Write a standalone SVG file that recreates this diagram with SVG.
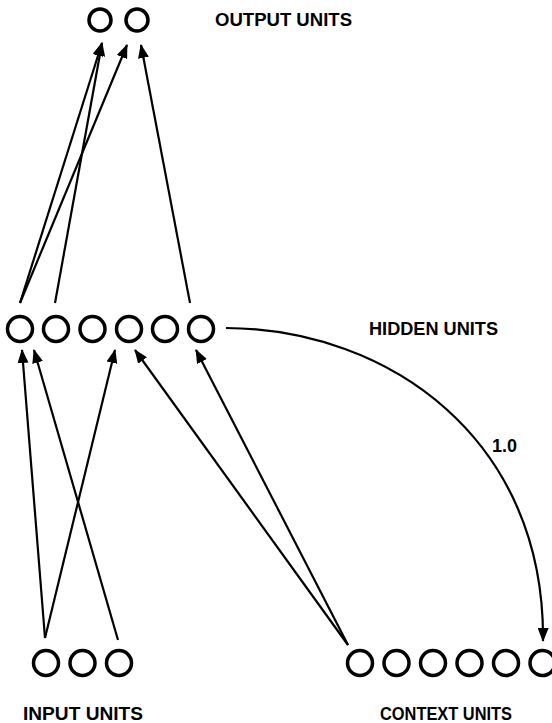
<svg xmlns="http://www.w3.org/2000/svg" width="552" height="723" viewBox="0 0 552 723">
<style>
.u{fill:none;stroke:#000;stroke-width:3.5}
.lbl{font-family:"Liberation Sans",Arial,sans-serif;font-weight:bold;font-size:19px;fill:#000}
.c{fill:none;stroke:#000;stroke-width:2.2}
</style>
<defs>
<marker id="ah" viewBox="0 0 14 11" refX="13" refY="5.5" markerWidth="14" markerHeight="11" markerUnits="userSpaceOnUse" orient="auto">
<path d="M0,0 L14,5.5 L0,11 z" fill="#000"/>
</marker>
</defs>
<rect width="552" height="723" fill="#fff"/>
<g id="output">
<circle class="u" cx="100" cy="20" r="11"/>
<circle class="u" cx="137" cy="20" r="11"/>
<text class="lbl" x="215" y="26" textLength="137" lengthAdjust="spacingAndGlyphs">OUTPUT UNITS</text>
</g>
<g id="hidden">
<circle class="u" cx="20" cy="329" r="12.5"/>
<circle class="u" cx="56" cy="329" r="12.5"/>
<circle class="u" cx="92.5" cy="329" r="12.5"/>
<circle class="u" cx="129" cy="329" r="12.5"/>
<circle class="u" cx="165" cy="329" r="12.5"/>
<circle class="u" cx="201" cy="329" r="12.5"/>
<text class="lbl" x="369" y="335" textLength="129" lengthAdjust="spacingAndGlyphs">HIDDEN UNITS</text>
</g>
<g id="input">
<circle class="u" cx="46" cy="663" r="12.5"/>
<circle class="u" cx="82.5" cy="663" r="12.5"/>
<circle class="u" cx="119" cy="663" r="12.5"/>
<text class="lbl" x="23" y="720" textLength="120" lengthAdjust="spacingAndGlyphs">INPUT UNITS</text>
</g>
<g id="context">
<circle class="u" cx="360" cy="663" r="12.5"/>
<circle class="u" cx="396.5" cy="663" r="12.5"/>
<circle class="u" cx="433" cy="663" r="12.5"/>
<circle class="u" cx="469.5" cy="663" r="12.5"/>
<circle class="u" cx="506" cy="663" r="12.5"/>
<circle class="u" cx="542.5" cy="663" r="12.5"/>
<text class="lbl" x="380" y="720" textLength="132" lengthAdjust="spacingAndGlyphs">CONTEXT UNITS</text>
</g>
<g id="connectors">
<line class="c" x1="20" y1="303" x2="102" y2="43" marker-end="url(#ah)"/>
<line class="c" x1="20" y1="303" x2="127" y2="45" marker-end="url(#ah)"/>
<line class="c" x1="55" y1="303" x2="102" y2="43" marker-end="url(#ah)"/>
<line class="c" x1="190" y1="303" x2="141" y2="45" marker-end="url(#ah)"/>
<line class="c" x1="45" y1="638" x2="22" y2="350" marker-end="url(#ah)"/>
<line class="c" x1="45" y1="638" x2="115" y2="350" marker-end="url(#ah)"/>
<line class="c" x1="118" y1="640" x2="34" y2="350" marker-end="url(#ah)"/>
<line class="c" x1="348" y1="645" x2="135" y2="350" marker-end="url(#ah)"/>
<line class="c" x1="348" y1="645" x2="196" y2="350" marker-end="url(#ah)"/>
<path class="c" d="M226,328 C390,329 545,440 543,641" marker-end="url(#ah)"/>
<text class="lbl" x="492" y="452" style="font-size:18px">1.0</text>
</g>
</svg>
